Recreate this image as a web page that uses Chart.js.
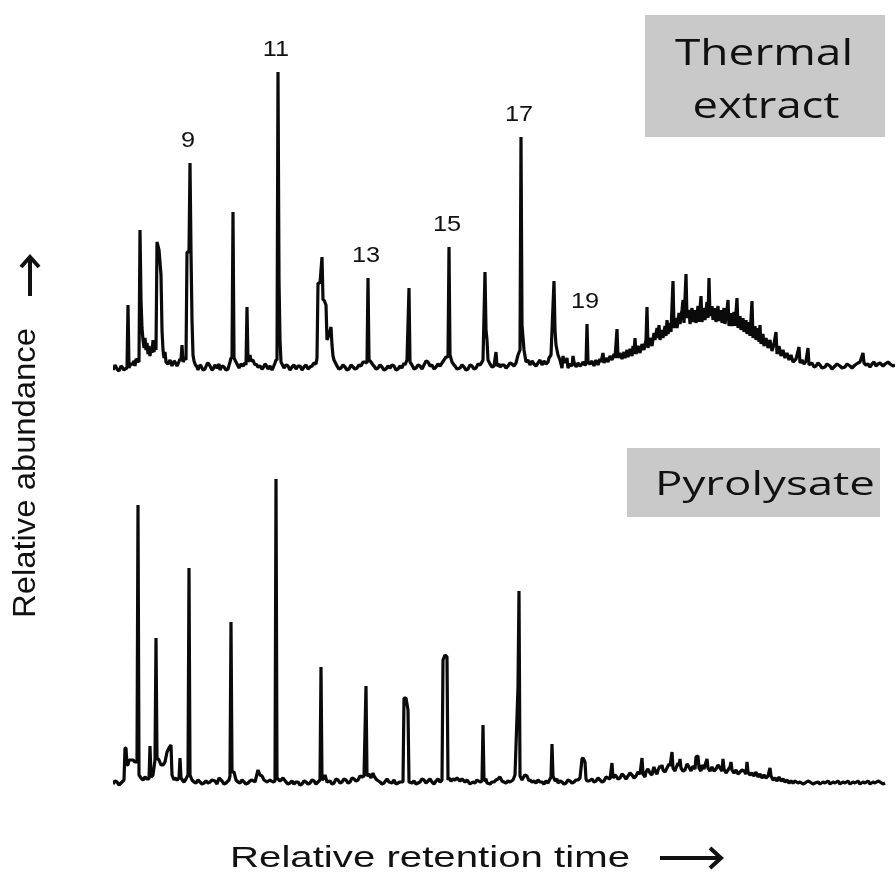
<!DOCTYPE html>
<html><head><meta charset="utf-8">
<script src="https://cdn.jsdelivr.net/npm/chart.js@4/dist/chart.umd.min.js"></script>
<style>html,body{margin:0;padding:0;background:#fff;}#wrap{position:relative;width:896px;height:875px;}</style>
</head><body><div id="wrap"><canvas id="c" width="896" height="875"></canvas></div>
<script>
// [relative retention time, relative abundance]
const topTrace = [[0,-2],[2,3],[4,-1],[6,-3],[8,2],[9,1],[11,-2],[12,-1],[14,0],[15,63],[16,0],[18,5],[19,3],[21,7],[22,2],[23,9],[24,8],[26,6],[27,138],[28,68],[29,40],[30,28],[31,20],[32,30],[33,18],[34,25],[35,14],[36,22],[37,12],[38,20],[39,15],[40,28],[41,16],[42,26],[43,18],[44,126],[46,118],[48,93],[49,38],[50,18],[51,10],[52,16],[53,6],[55,4],[57,8],[59,2],[61,7],[62,6],[64,2],[65,4],[67,9],[68,8],[69,23],[70,6],[72,10],[73,8],[74,116],[76,116],[77,205],[78,116],[79,48],[80,13],[81,7],[82,4],[84,1],[85,-2],[87,3],[88,2],[90,-2],[92,-1],[94,4],[95,5],[97,2],[99,-2],[100,-1],[102,3],[104,0],[106,4],[107,-2],[109,2],[111,1],[113,-2],[115,-1],[117,6],[118,10],[119,10],[120,156],[121,10],[123,6],[125,2],[126,0],[128,4],[130,2],[132,5],[133,3],[134,61],[135,6],[137,13],[138,7],[140,8],[142,3],[143,4],[145,1],[147,2],[149,-1],[150,0],[152,4],[153,3],[155,-1],[157,2],[159,-2],[160,0],[162,5],[163,8],[164,8],[165,296],[166,88],[167,28],[168,6],[170,2],[171,0],[173,3],[175,2],[177,-2],[179,1],[181,3],[183,-1],[185,2],[187,2],[189,-2],[191,1],[193,3],[195,-1],[197,1],[199,2],[201,5],[203,4],[204,10],[205,85],[207,85],[209,111],[210,68],[211,68],[213,63],[214,28],[216,33],[218,41],[219,23],[220,12],[221,8],[223,4],[224,2],[226,-1],[228,0],[230,3],[232,1],[234,-2],[236,-1],[238,3],[240,1],[242,-1],[244,0],[246,3],[248,2],[250,6],[252,6],[254,5],[255,90],[256,8],[258,6],[260,3],[261,2],[263,-1],[265,0],[267,3],[269,1],[271,-2],[273,-1],[275,2],[277,0],[279,3],[281,2],[283,-2],[285,-1],[287,2],[289,0],[291,5],[292,3],[294,8],[296,80],[297,6],[299,3],[301,-1],[303,0],[305,3],[307,2],[309,-1],[311,3],[313,7],[315,6],[317,2],[319,3],[321,-1],[323,1],[325,4],[327,2],[329,5],[331,8],[333,11],[335,11],[336,121],[337,13],[339,6],[341,3],[342,2],[344,-1],[347,0],[349,3],[351,1],[353,-2],[355,-1],[357,3],[359,2],[361,-1],[363,0],[365,4],[367,3],[369,6],[370,8],[372,96],[373,38],[374,28],[375,8],[377,4],[379,1],[381,2],[383,16],[384,2],[386,4],[387,1],[389,3],[391,3],[393,0],[395,2],[397,5],[399,4],[401,2],[403,5],[405,13],[407,18],[408,231],[409,43],[411,18],[413,6],[415,8],[417,3],[419,7],[421,4],[423,2],[425,5],[427,8],[429,3],[431,7],[433,4],[435,6],[436,10],[438,13],[441,87],[442,38],[443,23],[445,13],[447,8],[449,0],[450,12],[451,6],[453,6],[454,10],[455,0],[457,4],[459,2],[460,12],[461,6],[463,1],[465,5],[467,2],[469,4],[470,6],[472,3],[473,4],[474,44],[475,6],[477,4],[479,7],[481,2],[483,8],[485,3],[487,9],[488,6],[490,15],[491,5],[493,10],[495,6],[497,12],[499,8],[501,14],[502,10],[504,39],[505,10],[507,15],[509,9],[511,16],[512,10],[514,18],[515,11],[517,19],[519,12],[520,22],[521,14],[522,30],[523,14],[525,22],[527,15],[529,24],[531,18],[533,28],[534,61],[535,20],[537,30],[539,22],[541,35],[542,28],[544,40],[545,30],[546,43],[547,28],[549,38],[550,30],[552,42],[553,32],[554,48],[555,34],[557,45],[558,36],[560,87],[561,40],[563,50],[564,40],[566,55],[567,44],[569,58],[570,68],[571,45],[573,94],[574,50],[576,58],[577,44],[579,60],[580,46],[582,58],[583,45],[585,62],[586,46],[588,72],[589,46],[591,60],[592,48],[594,66],[595,50],[596,90],[597,52],[599,62],[600,48],[602,60],[603,46],[605,62],[606,47],[608,58],[609,45],[611,60],[612,44],[614,58],[615,68],[616,42],[618,55],[619,42],[621,56],[622,42],[624,70],[625,40],[627,52],[628,38],[630,50],[631,36],[633,48],[634,34],[636,46],[637,32],[639,67],[640,30],[642,42],[643,28],[645,40],[646,26],[647,43],[648,24],[650,34],[651,22],[653,30],[655,20],[657,28],[659,17],[661,24],[663,36],[664,14],[666,22],[668,12],[670,18],[672,10],[674,15],[676,8],[678,13],[680,6],[683,9],[686,21],[687,5],[689,8],[691,4],[693,7],[695,20],[696,3],[699,5],[701,1],[703,2],[705,5],[707,3],[709,0],[712,1],[714,4],[717,2],[719,-1],[722,2],[724,4],[727,2],[729,0],[732,1],[734,4],[737,2],[739,0],[742,3],[745,5],[747,6],[750,15],[751,5],[753,3],[755,4],[757,1],[759,4],[761,6],[763,2],[765,4],[767,5],[770,2],[772,4],[775,6],[777,4],[780,2],[782,3]];
const bottomTrace = [[0,-1],[2,2],[4,1],[6,-2],[8,0],[10,2],[11,3],[12,35],[13,35],[14,18],[15,18],[16,23],[18,23],[20,23],[22,21],[24,21],[25,278],[26,8],[28,5],[30,3],[32,6],[34,4],[36,4],[37,37],[38,6],[40,8],[42,23],[43,145],[44,25],[46,23],[48,18],[50,18],[52,21],[54,31],[56,35],[58,38],[59,8],[61,3],[62,5],[64,3],[66,5],[67,25],[68,5],[70,2],[71,1],[73,4],[74,6],[75,8],[76,215],[77,8],[79,3],[81,1],[83,0],[85,3],[87,1],[89,-1],[91,0],[93,2],[95,0],[97,1],[99,3],[102,2],[104,-1],[106,5],[109,2],[111,-1],[113,0],[116,3],[117,7],[118,161],[119,11],[121,11],[123,3],[125,1],[127,0],[129,3],[131,1],[133,-1],[135,0],[137,2],[139,3],[142,1],[145,13],[147,8],[149,7],[151,3],[154,1],[157,3],[160,1],[162,2],[163,304],[164,5],[167,2],[170,5],[173,1],[175,-1],[177,0],[179,2],[181,-1],[183,1],[185,1],[187,-2],[189,-1],[191,2],[193,1],[195,-1],[197,0],[199,3],[201,2],[203,-1],[205,1],[207,3],[208,116],[209,3],[211,5],[212,8],[214,1],[217,2],[219,-1],[221,0],[223,4],[225,3],[227,0],[229,1],[231,4],[233,3],[235,0],[237,1],[239,5],[241,4],[243,2],[245,3],[247,7],[249,6],[251,7],[253,97],[254,7],[256,9],[258,5],[260,10],[261,7],[263,4],[264,3],[267,1],[269,-1],[271,0],[274,4],[276,1],[279,0],[281,3],[283,-1],[285,0],[287,1],[290,1],[291,85],[293,85],[295,73],[296,1],[299,0],[301,2],[303,-1],[305,0],[307,1],[309,4],[311,3],[313,0],[315,2],[317,4],[319,1],[321,-1],[323,2],[325,4],[327,1],[329,3],[330,123],[332,128],[334,126],[335,3],[336,5],[338,2],[340,4],[342,3],[344,5],[347,2],[349,4],[352,1],[354,3],[357,-1],[360,1],[362,0],[364,3],[367,1],[369,2],[370,58],[371,2],[373,4],[374,0],[377,-1],[379,1],[381,1],[383,3],[385,4],[387,6],[389,2],[391,1],[393,0],[395,2],[397,1],[400,3],[402,8],[405,96],[406,192],[407,7],[409,3],[410,5],[412,8],[414,7],[416,2],[417,3],[419,1],[421,2],[423,0],[425,3],[427,1],[429,1],[431,-1],[433,2],[435,0],[437,4],[438,6],[439,39],[440,7],[442,2],[444,4],[445,0],[447,2],[449,1],[451,-1],[453,0],[455,3],[457,2],[459,0],[461,1],[463,3],[465,3],[467,5],[469,24],[470,25],[472,21],[473,4],[474,2],[476,2],[479,4],[481,1],[483,2],[485,5],[487,3],[489,1],[491,2],[493,6],[495,5],[497,4],[499,20],[500,5],[502,8],[503,7],[505,4],[507,5],[509,9],[511,7],[513,4],[515,7],[517,10],[519,8],[521,5],[523,7],[525,11],[527,9],[529,25],[530,9],[532,6],[533,11],[535,14],[537,10],[539,8],[540,13],[541,16],[542,12],[544,9],[545,13],[547,17],[548,15],[549,18],[550,13],[552,11],[554,15],[556,19],[557,17],[559,31],[560,15],[562,12],[563,15],[565,20],[566,17],[567,24],[568,15],[570,12],[572,13],[574,19],[576,16],[578,12],[580,17],[582,14],[583,26],[585,27],[586,15],[588,12],[589,18],[591,14],[593,21],[594,24],[595,15],[597,12],[599,16],[601,12],[603,14],[605,18],[607,15],[609,12],[610,24],[611,14],[613,10],[615,13],[617,16],[618,21],[619,13],[621,10],[623,13],[625,9],[627,11],[629,13],[631,12],[633,9],[634,21],[635,11],[637,8],[639,10],[641,7],[643,11],[645,6],[647,9],[649,5],[651,8],[653,5],[655,7],[657,15],[658,7],[660,3],[662,5],[664,2],[666,6],[668,2],[670,4],[672,1],[674,3],[676,0],[678,2],[680,0],[682,2],[685,0],[687,1],[690,-1],[692,0],[695,2],[697,1],[700,-1],[702,0],[705,1],[707,-1],[710,1],[712,0],[715,2],[717,-1],[720,1],[722,0],[725,2],[727,-1],[730,1],[732,0],[735,2],[737,-1],[740,1],[742,0],[745,2],[747,-1],[750,1],[752,0],[755,2],[757,-1],[760,1],[762,0],[765,2],[767,1],[770,-1],[772,0]];
const peakLabels = ['9','11','13','15','17','19'];
const peakLabelTimes = [77,165,255,336,408,474];
const panelNames = [['Thermal','extract'],['Pyrolysate']];
const xTitle = 'Relative retention time';
const yTitle = 'Relative abundance';

function stretchText(ctx, text, cx, baseline, font, width, scale) {
  ctx.save();
  ctx.font = font;
  const w = ctx.measureText(text).width;
  const s = width ? width / w : (scale || 1);
  ctx.translate(cx, baseline);
  ctx.scale(s, 1);
  ctx.textAlign = 'center';
  ctx.textBaseline = 'alphabetic';
  ctx.fillText(text, 0, 0);
  ctx.restore();
}

const decor = {
  id: 'decor',
  afterDraw(chart) {
    const ctx = chart.ctx;
    const xs = chart.scales.x, yT = chart.scales.yTop;
    ctx.save();
    // panel name boxes
    ctx.fillStyle = '#c9c9c9';
    ctx.fillRect(645, 15, 240, 122);
    ctx.fillRect(627, 448, 253, 69);
    ctx.fillStyle = '#111';
    stretchText(ctx, panelNames[0][0], 764, 65, '36px "Open Sans"', 178);
    stretchText(ctx, panelNames[0][1], 766, 118, '36px "Open Sans"', 147);
    stretchText(ctx, panelNames[1][0], 765, 495, '33px "Open Sans"', 220);
    // peak labels
    peakLabels.forEach((lab, i) => {
      const t = peakLabelTimes[i];
      const pt = topTrace.find(p => p[0] === t);
      const px = xs.getPixelForValue(t) - 2;
      const py = yT.getPixelForValue(pt[1]) - 16;
      stretchText(ctx, lab, px, py, '22px "Liberation Sans"', 0, 1.15);
    });
    // axis titles
    stretchText(ctx, xTitle, 430, 867, '30px "Liberation Sans"', 400);
    ctx.save();
    ctx.translate(35, 473);
    ctx.rotate(-Math.PI / 2);
    stretchText(ctx, yTitle, 0, 0, '31px "Liberation Sans"', 290);
    ctx.restore();
    // arrows
    ctx.strokeStyle = '#111';
    ctx.lineWidth = 4;
    ctx.lineCap = 'butt';
    ctx.lineJoin = 'miter';
    ctx.beginPath();
    ctx.moveTo(30, 296); ctx.lineTo(30, 258);
    ctx.moveTo(21, 267); ctx.lineTo(30, 257); ctx.lineTo(39, 267);
    ctx.stroke();
    ctx.beginPath();
    ctx.moveTo(660, 858); ctx.lineTo(720, 858);
    ctx.moveTo(710, 848); ctx.lineTo(721, 858); ctx.lineTo(710, 868);
    ctx.stroke();
    ctx.restore();
  }
};

const lineStyle = {
  borderColor: '#0a0a0a', borderWidth: 3.2, pointRadius: 0, fill: false,
  tension: 0, borderJoinStyle: 'bevel', borderCapStyle: 'butt'
};

new Chart(document.getElementById('c'), {
  type: 'line',
  data: {
    datasets: [
      Object.assign({ label: 'Thermal extract', data: topTrace.map(p => ({ x: p[0], y: p[1] })), xAxisID: 'x', yAxisID: 'yTop' }, lineStyle),
      Object.assign({ label: 'Pyrolysate', data: bottomTrace.map(p => ({ x: p[0], y: p[1] })), xAxisID: 'x', yAxisID: 'yBot' }, lineStyle)
    ]
  },
  options: {
    responsive: false,
    devicePixelRatio: 1,
    animation: false,
    layout: { padding: { left: 113, right: 1, top: 30, bottom: 80 } },
    plugins: { legend: { display: false }, tooltip: { enabled: false } },
    scales: {
      x: { type: 'linear', min: 0, max: 782, display: false },
      yTop: { type: 'linear', position: 'left', min: -32, max: 338, display: false, stack: 'v', stackWeight: 370, weight: 1 },
      yBot: { type: 'linear', position: 'left', min: -12, max: 383, display: false, stack: 'v', stackWeight: 395, weight: 0 }
    }
  },
  plugins: [decor]
});
</script></body></html>
